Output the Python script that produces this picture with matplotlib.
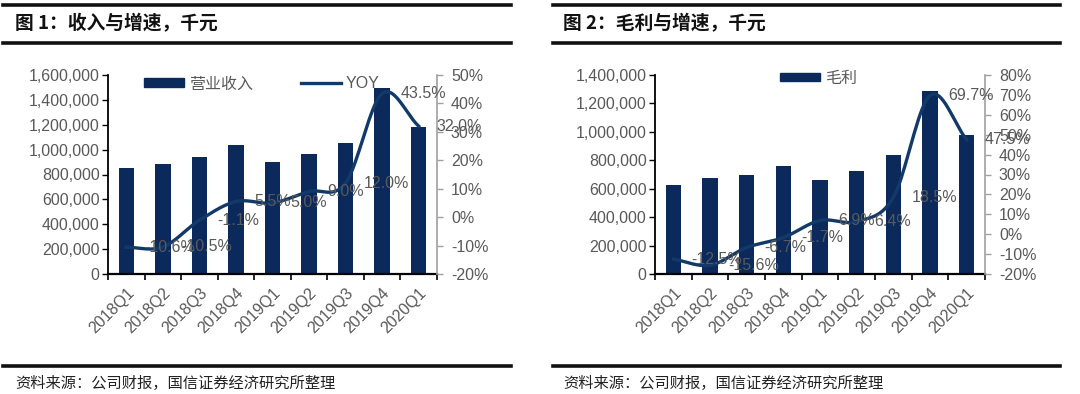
import matplotlib
matplotlib.use('Agg')
import matplotlib.pyplot as plt
from matplotlib.lines import Line2D
from matplotlib.patches import Patch
import numpy as np

plt.rcParams['font.family'] = ['Liberation Sans', 'Noto Sans CJK SC', 'DejaVu Sans']

quarters = ['2018Q1', '2018Q2', '2018Q3', '2018Q4', '2019Q1', '2019Q2', '2019Q3', '2019Q4', '2020Q1']
revenue = [856000, 883000, 939000, 1038000, 899000, 966000, 1054000, 1498000, 1180000]
revenue_yoy = [-10.6, -10.5, -1.1, 5.5, 5.0, 9.0, 12.0, 43.5, 32.0]
gross = [625000, 677000, 700000, 761000, 663000, 726000, 836000, 1288000, 981000]
gross_yoy = [-12.5, -15.6, -6.7, -1.7, 6.9, 6.4, 18.5, 69.7, 47.5]

navy = '#0b2a5b'
line_c = '#123a68'
gray = '#595959'
W, H = 1080, 394
fs = 11.5


def smooth(x, y, n=20):
    # catmull-rom style curve through the points
    x = np.asarray(x, float)
    y = np.asarray(y, float)
    px = np.concatenate([[2 * x[0] - x[1]], x, [2 * x[-1] - x[-2]]])
    py = np.concatenate([[2 * y[0] - y[1]], y, [2 * y[-1] - y[-2]]])
    xs, ys = [], []
    t = np.linspace(0, 1, n)
    for i in range(1, len(px) - 2):
        for p, out in ((px, xs), (py, ys)):
            p0, p1, p2, p3 = p[i - 1], p[i], p[i + 1], p[i + 2]
            out.extend(0.5 * ((2 * p1) + (-p0 + p2) * t
                              + (2 * p0 - 5 * p1 + 4 * p2 - p3) * t ** 2
                              + (-p0 + 3 * p1 - 3 * p2 + p3) * t ** 3))
    return xs, ys


def panel(x0, x1, bars, yoy, ymax, rmin, rmax, title, bar_name, show_line_legend, lx, ly):
    ax = fig.add_axes([x0 / W, (H - 274) / H, (x1 - x0) / W, 199 / H])
    x = np.arange(len(quarters))
    ax.bar(x, bars, width=0.42, color=navy, zorder=2)
    ax.set_xlim(-0.5, len(quarters) - 0.5)
    ax.set_ylim(0, ymax)
    ax.set_yticks(np.arange(0, ymax + 1, 200000))
    ax.set_yticklabels(['{:,}'.format(v) for v in range(0, ymax + 1, 200000)])
    ax.set_xticks(x)
    ax.set_xticklabels(quarters, rotation=45, ha='right', va='top', rotation_mode='anchor')
    ax.set_xticks(np.arange(-0.5, len(quarters)), minor=True)
    ax.tick_params(axis='x', which='major', length=0, pad=8, labelsize=fs, labelcolor=gray)
    ax.tick_params(axis='x', which='minor', length=4, width=1.2, direction='out')
    ax.tick_params(axis='y', length=4, width=1, pad=2, labelsize=fs, labelcolor=gray)
    for s in ['top', 'right']:
        ax.spines[s].set_visible(False)
    ax.spines['left'].set_linewidth(1.3)
    ax.spines['bottom'].set_linewidth(1.6)

    ax2 = ax.twinx()
    xs, ys = smooth(x, yoy)
    ax2.plot(xs, ys, color=line_c, lw=2.4, zorder=3)
    ax2.set_ylim(rmin, rmax)
    ticks = np.arange(rmin, rmax + 1, 10)
    ax2.set_yticks(ticks)
    ax2.set_yticklabels(['{}%'.format(t) for t in ticks])
    ax2.tick_params(axis='y', length=4, width=1, color='#a0a0a0', pad=6, labelsize=fs, labelcolor=gray)
    for s in ['top', 'left', 'bottom']:
        ax2.spines[s].set_visible(False)
    ax2.spines['right'].set_color('#a0a0a0')
    ax2.spines['right'].set_linewidth(1.2)
    for xi, v in zip(x, yoy):
        ax2.annotate('{:.1f}%'.format(v), (xi, v), xytext=(13, 0), textcoords='offset points',
                     ha='left', va='center', fontsize=fs, color=gray, zorder=4)

    handles = [Patch(color=navy, label=bar_name)]
    if show_line_legend:
        handles.append(Line2D([], [], color=line_c, lw=2.4, label='YOY'))
    ax.legend(handles=handles, loc='center left', bbox_to_anchor=(lx, ly), ncol=2,
              frameon=False, fontsize=fs, labelcolor=gray, handlelength=2.5,
              handleheight=0.45, handletextpad=0.3, columnspacing=3.0,
              borderpad=0, borderaxespad=0)

    # header / footer rules and text
    lx0, lx1 = title[1], title[2]
    for yy, lw in ((5, 2.6), (43, 2.6), (366, 2.6)):
        fig.add_artist(Line2D([lx0 / W, lx1 / W], [1 - yy / H, 1 - yy / H], color='#111111', lw=lw))
    fig.text(title[3] / W, 1 - 24 / H, title[0], fontsize=13.5, fontweight='bold',
             family=['Noto Sans CJK SC', 'DejaVu Sans'], va='center', ha='left', color='#111111')
    fig.text(title[3] / W, 1 - 383 / H, '资料来源：公司财报，国信证券经济研究所整理', fontsize=11,
             family=['Noto Sans CJK SC', 'DejaVu Sans'], va='center', ha='left', color='#222222')


fig = plt.figure(figsize=(W / 100, H / 100), dpi=100)
fig.patch.set_facecolor('white')

panel(108, 437, revenue, revenue_yoy, 1600000, -20, 50,
      ('图 1：收入与增速，千元', 3, 511, 15), '营业收入', True, 0.11, 0.955)
panel(655, 985, gross, gross_yoy, 1400000, -20, 80,
      ('图 2：毛利与增速，千元', 553, 1060, 563), '毛利', False, 0.38, 0.985)

fig.savefig('out.png', dpi=100)
